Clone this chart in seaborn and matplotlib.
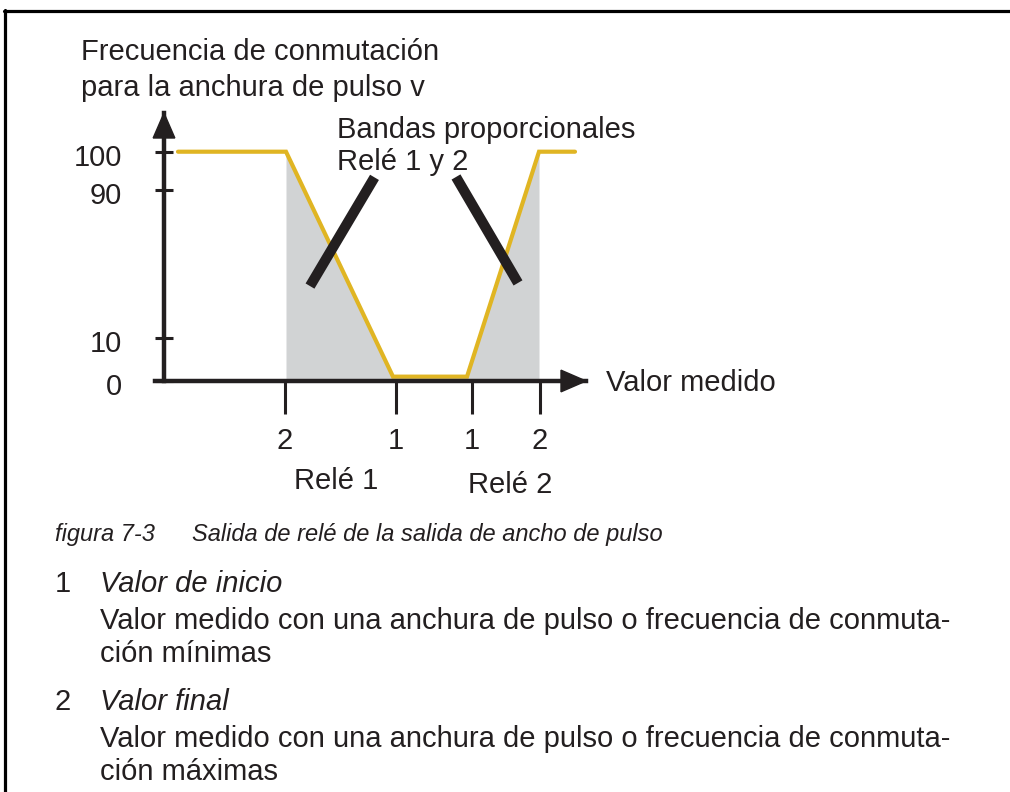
import numpy as np
import matplotlib
matplotlib.use("Agg")
import matplotlib.pyplot as plt
import seaborn as sns
from matplotlib.lines import Line2D
from matplotlib.patches import Polygon
from matplotlib.transforms import ScaledTranslation

# ---------------- data ----------------
# switching frequency curve (measured value in schematic units, % pulse)
curve_x = [14, 122, 229, 303, 375, 411]
curve_y = [100, 100, 1, 1, 100, 100]

# schematic (non-linear) y axis: value -> drawn height
scale_values = [0, 10, 90, 100, 110]
scale_heights = [0, 43.5, 191, 229.3, 268]
y_tick_values = [0, 10, 90, 100]
y_tick_labels = ["0", "10", "90", "100"]

x_tick_values = [121, 232, 308, 376]
x_tick_labels = ["2", "1", "1", "2"]

# proportional band pointer bars
band1_x = [210.5, 146]
band1_y = [93.3, 37.9]
band2_x = [292, 354]
band2_y = [93.4, 39.6]

YELLOW = "#e0b523"
GRAY = "#d1d3d4"
DARK = "#231f20"

sns.set_theme(style="white")
plt.rcParams["font.family"] = ["Liberation Sans", "DejaVu Sans"]

W, H = 1010, 792
fig = plt.figure(figsize=(W / 100, H / 100), dpi=100)
fig.patch.set_facecolor("white")


def fx(px):
    return px / W


def fy(py):
    return 1 - py / H


ax = fig.add_axes([fx(155), fy(381), (586 - 155) / W, (381 - 113) / H])
ax.set_facecolor("none")


def fwd(v):
    return np.interp(v, scale_values, scale_heights)


def inv(h):
    return np.interp(h, scale_heights, scale_values)


ax.set_yscale("function", functions=(fwd, inv))
ax.set_xlim(155 - 164, 586 - 164)
ax.set_ylim(0, 110)

# shaded proportional bands
ax.fill_between(curve_x[1:5], curve_y[1:5], 0, color=GRAY, lw=0, zorder=1)
# curve
sns.lineplot(x=curve_x, y=curve_y, sort=False, estimator=None, color=YELLOW,
             lw=3, ax=ax, zorder=3)
for ln in ax.lines:
    ln.set_solid_joinstyle("miter")
    ln.set_clip_on(False)

# pointer bars
ax.plot(band1_x, band1_y, color=DARK, lw=7.4, solid_capstyle="butt", zorder=4)
ax.plot(band2_x, band2_y, color=DARK, lw=7.4, solid_capstyle="butt", zorder=4)

# axes styling
for s in ["top", "right"]:
    ax.spines[s].set_visible(False)
ax.spines["left"].set_position(("data", 0))
for s in ["left", "bottom"]:
    ax.spines[s].set_linewidth(3.2)
    ax.spines[s].set_color(DARK)
    ax.spines[s].set_zorder(5)

FS = 21
ax.set_yticks(y_tick_values)
ax.set_yticklabels(y_tick_labels)
ax.set_xticks(x_tick_values)
ax.set_xticklabels(x_tick_labels)
ax.tick_params(axis="y", direction="inout", length=13, width=2.2, pad=23.5,
               labelsize=FS, color=DARK, labelcolor=DARK, left=True)
ax.tick_params(axis="x", direction="out", length=24, width=2.2, pad=9,
               labelsize=FS, color=DARK, labelcolor=DARK, bottom=True)
ax.minorticks_off()
ax.grid(False)
shift = ScaledTranslation(0, -3 / 100, fig.dpi_scale_trans)
for lab in ax.get_yticklabels():
    lab.set_transform(lab.get_transform() + shift)

# arrow heads
L, HW = 18 / 72, 7.8 / 72
head_up = Polygon([[0, 0], [-HW, -L], [HW, -L]], closed=True, color=DARK,
                  transform=fig.dpi_scale_trans + ScaledTranslation(0, 1, ax.get_xaxis_transform()),
                  clip_on=False, zorder=6)
head_right = Polygon([[0, 0], [-L, -HW], [-L, HW]], closed=True, color=DARK,
                     transform=fig.dpi_scale_trans + ScaledTranslation(1, 0, ax.transAxes),
                     clip_on=False, zorder=6)
ax.add_patch(head_up)
ax.add_patch(head_right)

# texts
tk = dict(color=DARK, fontsize=FS, va="baseline")
fig.text(fx(81), fy(60), "Frecuencia de conmutación", **tk)
fig.text(fx(81), fy(96), "para la anchura de pulso v", **tk)
fig.text(fx(337), fy(138), "Bandas proporcionales", **tk)
fig.text(fx(337), fy(170), "Relé 1 y 2", **tk)
fig.text(fx(606), fy(391), "Valor medido", **tk)
fig.text(fx(336), fy(489), "Relé 1", ha="center", **tk)
fig.text(fx(510), fy(493), "Relé 2", ha="center", **tk)

cap = dict(color=DARK, fontsize=17, va="baseline", style="italic")
fig.text(fx(55), fy(541), "figura 7-3", **cap)
fig.text(fx(192), fy(541), "Salida de relé de la salida de ancho de pulso", **cap)

fig.text(fx(55), fy(592), "1", **tk)
fig.text(fx(100), fy(592), "Valor de inicio", style="italic", **tk)
fig.text(fx(100), fy(629), "Valor medido con una anchura de pulso o frecuencia de conmuta-", **tk)
fig.text(fx(100), fy(662), "ción mínimas", **tk)
fig.text(fx(55), fy(710), "2", **tk)
fig.text(fx(100), fy(710), "Valor final", style="italic", **tk)
fig.text(fx(100), fy(747), "Valor medido con una anchura de pulso o frecuencia de conmuta-", **tk)
fig.text(fx(100), fy(780), "ción máximas", **tk)

# frame (top and left border)
fig.add_artist(Line2D([fx(4), fx(1010)], [fy(11), fy(11)], lw=2.3, color="black"))
fig.add_artist(Line2D([fx(5), fx(5)], [fy(10), fy(792)], lw=2.3, color="black"))

fig.savefig("out.png", dpi=100, facecolor="white")
